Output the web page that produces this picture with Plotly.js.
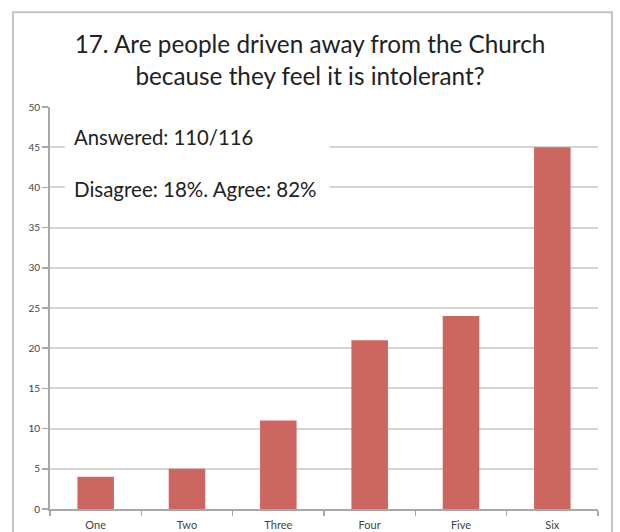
<!DOCTYPE html>
<html><head><meta charset="utf-8">
<script src="https://cdn.plot.ly/plotly-3.0.1.min.js"></script>
<style>body{margin:0;background:#fff}#c{width:620px;height:532px}</style>
</head><body><div id="c"></div>
<script>
const categories = ["One", "Two", "Three", "Four", "Five", "Six"];
const counts = [4, 5, 11, 21, 24, 45];
const titleText = "17. Are people driven away from the Church<br>because they feel it is intolerant?";
const noteAnswered = "Answered: 110/116";
const noteSplit = "Disagree: 18%. Agree: 82%";

const FONT = "Lato, 'Open Sans', sans-serif";
Plotly.newPlot('c', [{
  type: 'bar', x: categories, y: counts,
  marker: {color: '#cc6660', line: {width: 0}},
  hoverinfo: 'none'
}], {
  width: 620, height: 532,
  margin: {l: 50, r: 22, t: 107, b: 23},
  paper_bgcolor: '#fff', plot_bgcolor: '#fff',
  bargap: 0.6,
  showlegend: false,
  font: {family: FONT, color: '#333'},
  title: {text: titleText, font: {family: FONT, size: 24.3, color: '#222'}, x: 0.5, xanchor: 'center', y: 0.900, yanchor: 'middle'},
  xaxis: {
    showgrid: false, showline: true, linecolor: '#a8a8a8', linewidth: 2,
    ticks: 'outside', ticklen: 5, tickcolor: '#a8a8a8', tickwidth: 1.5,
    tickson: 'boundaries', ticklabelstandoff: 5,
    tickfont: {size: 11, color: '#444', family: FONT}
  },
  yaxis: {
    range: [0, 50], dtick: 5, tick0: 0,
    showgrid: true, gridcolor: '#d4d4d4', gridwidth: 2,
    showline: true, linecolor: '#a8a8a8', linewidth: 2,
    ticks: 'outside', ticklen: 6, tickcolor: '#a8a8a8', tickwidth: 1.5,
    tickfont: {size: 10, color: '#444', family: FONT},
    zeroline: false
  },
  shapes: [
    {type: 'rect', xref: 'paper', yref: 'paper', x0: 0.027, x1: 0.51, y0: 0.755, y1: 0.965,
     fillcolor: '#fff', line: {width: 0}, layer: 'above'},
    {type: 'rect', xref: 'paper', yref: 'paper', x0: -0.0675, x1: 1.0255, y0: -0.2, y1: 1.236,
     fillcolor: 'rgba(0,0,0,0)', line: {color: '#c4c4c4', width: 2}, layer: 'below'}
  ],
  annotations: [
    {text: noteAnswered, xref: 'paper', yref: 'paper', x: 0.04, y: 0.9245, xanchor: 'left', yanchor: 'middle', showarrow: false, font: {size: 20.3, color: '#222', family: FONT}},
    {text: noteSplit, xref: 'paper', yref: 'paper', x: 0.04, y: 0.7965, xanchor: 'left', yanchor: 'middle', showarrow: false, font: {size: 20.5, color: '#222', family: FONT}}
  ]
}, {staticPlot: true});
</script></body></html>
